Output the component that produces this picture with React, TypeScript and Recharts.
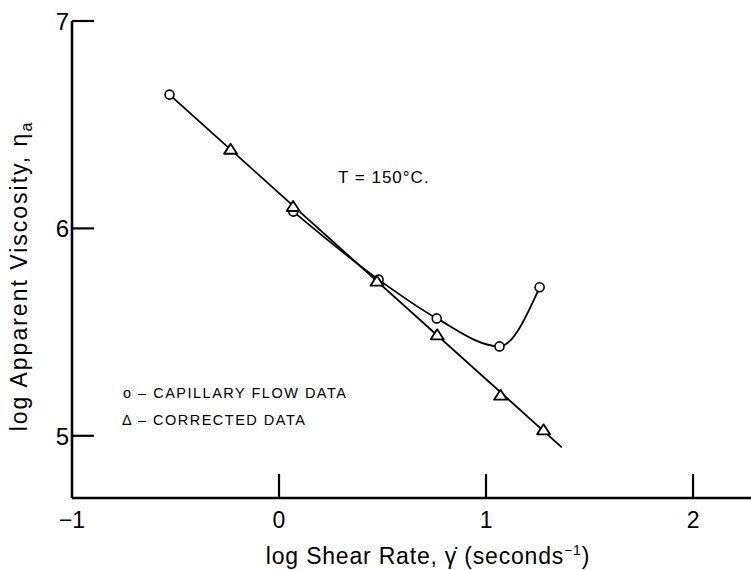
import React from 'react'
import { ComposedChart, Line, Scatter, XAxis, YAxis } from 'recharts'

// log shear rate vs log apparent viscosity, T = 150°C
const capillaryX = [-0.529, 0.069, 0.481, 0.762, 1.065, 1.259]
const capillaryY = [6.645, 6.081, 5.753, 5.566, 5.431, 5.716]

const correctedX = [-0.234, 0.068, 0.473, 0.764, 1.07, 1.278]
const correctedY = [6.376, 6.1, 5.74, 5.481, 5.19, 5.023]

// straight fit through the corrected data
const fitX = [-0.529, 1.366]
const fitY = [6.645, 4.944]

const xTicks = [-1, 0, 1, 2]
const yTicks = [5, 6, 7]

const capillary = capillaryX.map((x, i) => ({ x, y: capillaryY[i] }))
// the first segment runs along the fitted line, the curve starts at the 2nd point
const capillaryCurve = capillary.slice(1)
const corrected = correctedX.map((x, i) => ({ x, y: correctedY[i] }))
const fit = fitX.map((x, i) => ({ x, y: fitY[i] }))

const font = '"Liberation Sans", Arial, sans-serif'

const XTick = (props: any) => {
  const { x, y, payload } = props
  const v = payload.value
  return (
    <g>
      {v !== -1 && <line x1={x} y1={y} x2={x} y2={y - 24} stroke="#000" strokeWidth={2.2} />}
      <text x={x} y={y + 30} textAnchor="middle" fontSize={23} fontFamily={font} fill="#000">
        {v < 0 ? `\u2212${Math.abs(v)}` : v}
      </text>
    </g>
  )
}

const YTick = (props: any) => {
  const { x, y, payload } = props
  return (
    <g>
      <line x1={x} y1={y} x2={x + 22} y2={y} stroke="#000" strokeWidth={2.2} />
      <text x={x - 3} y={y + 9} textAnchor="end" fontSize={24} fontFamily={font} fill="#000">
        {payload.value}
      </text>
    </g>
  )
}

const Circle = (props: any) => {
  const { cx, cy } = props
  return <circle cx={cx} cy={cy} r={4.5} fill="#fff" stroke="#000" strokeWidth={1.6} />
}

const Triangle = (props: any) => {
  const { cx, cy } = props
  const w = 6.5
  const h = 10
  return (
    <polygon
      points={`${cx - w},${cy + h / 3} ${cx + w},${cy + h / 3} ${cx},${cy - (2 * h) / 3}`}
      fill="#fff"
      stroke="#000"
      strokeWidth={1.8}
      strokeLinejoin="round"
    />
  )
}

export default function App() {
  return (
    <div style={{ position: 'absolute', left: 0, top: 0, width: 751, height: 570, background: '#fff' }}>
      <ComposedChart width={751} height={570} margin={{ top: 21, right: 0, left: 0, bottom: 0 }}>
        <XAxis
          type="number"
          dataKey="x"
          domain={[-1, 2.28]}
          ticks={xTicks}
          allowDataOverflow
          height={72}
          tickSize={0}
          tickMargin={0}
          tickLine={false}
          axisLine={{ stroke: '#000', strokeWidth: 2.6 }}
          tick={<XTick />}
        />
        <YAxis
          type="number"
          dataKey="y"
          domain={[4.7, 7]}
          ticks={yTicks}
          allowDataOverflow
          width={72}
          tickSize={0}
          tickMargin={0}
          tickLine={false}
          axisLine={{ stroke: '#000', strokeWidth: 2.6 }}
          tick={<YTick />}
        />
        <Line
          data={fit}
          dataKey="y"
          type="linear"
          stroke="#000"
          strokeWidth={1.8}
          dot={false}
          isAnimationActive={false}
        />
        <Line
          data={capillaryCurve}
          dataKey="y"
          type="monotone"
          stroke="#000"
          strokeWidth={1.8}
          dot={false}
          isAnimationActive={false}
        />
        <Scatter data={capillary} dataKey="y" shape={<Circle />} isAnimationActive={false} />
        <Scatter data={corrected} dataKey="y" shape={<Triangle />} isAnimationActive={false} />
      </ComposedChart>
      <svg
        width={751}
        height={570}
        style={{ position: 'absolute', left: 0, top: 0, pointerEvents: 'none' }}
        fontFamily={font}
      >
        <text x={338} y={183} fontSize={17} fill="#000" letterSpacing={1}>
          T = 150°C.
        </text>
        <text x={123} y={398} fontSize={14.5} fill="#000" letterSpacing={1.5}>
          o – CAPILLARY  FLOW  DATA
        </text>
        <text x={122} y={425} fontSize={14.5} fill="#000" letterSpacing={1.5}>
          Δ – CORRECTED  DATA
        </text>
        <text x={428} y={564} textAnchor="middle" fontSize={23} fill="#000" letterSpacing={0.8}>
          log Shear Rate, γ̇  (seconds
          <tspan fontSize={14} dy={-9}>−1</tspan>
          <tspan dy={9}>)</tspan>
        </text>
        <text
          transform="translate(27, 276) rotate(-90)"
          textAnchor="middle"
          fontSize={23}
          fill="#000"
          letterSpacing={2}
        >
          log Apparent Viscosity, η
          <tspan fontSize={16} dy={5}>a</tspan>
        </text>
      </svg>
    </div>
  )
}
